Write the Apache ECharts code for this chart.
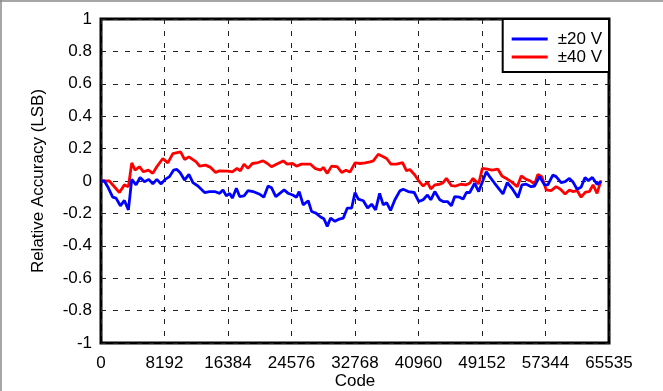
<!DOCTYPE html>
<html>
<head>
<meta charset="utf-8">
<script src="https://cdn.jsdelivr.net/npm/echarts@6/dist/echarts.min.js"></script>
<style>html,body{margin:0;padding:0;background:#fff}#c{width:663px;height:391px}</style>
</head>
<body>
<div id="c"></div>
<script>
var xTicks = [0, 8192, 16384, 24576, 32768, 40960, 49152, 57344, 65535];
var seriesNames = ['\u00b120 V', '\u00b140 V'];

var codes20 = [0,431,862,1509,1940,2501,3018,3536,3967,4527,5045,5605,6166,6683,7200,7761,8278,8839,9356,9787,10219,10779,11340,11857,12504,13366,14013,14659,15306,15737,16168,16600,16944,17462,17893,18454,18971,19618,20394,20998,21558,21989,22550,23067,23628,24145,24792,25223,25568,26085,26732,27163,27724,28327,28758,29190,29621,30181,30742,31259,31776,32337,32768,33197,33840,34398,34913,35427,35942,36414,36843,37357,37915,38558,38987,39630,40402,41003,41560,42118,42547,43062,43705,44134,44692,45206,45635,46278,46707,47136,47565,48208,48723,49710,50139,50782,51854,52412,53013,53784,54299,54856,55499,55929,56572,57215,57644,58287,58716,59359,59874,60432,60861,61418,61933,62447,62876,63391,63991,64506];
var values20 = [0,0,-0.035,-0.1,-0.106,-0.153,-0.12,-0.178,0.01,-0.024,0.022,-0.004,0.01,-0.018,0.01,-0.018,0.01,0.027,0.067,0.071,0.051,0.006,0.041,-0.01,-0.031,-0.071,-0.065,-0.065,-0.076,-0.055,-0.092,-0.076,-0.106,-0.045,-0.096,-0.092,-0.059,-0.065,-0.08,-0.1,-0.031,-0.041,-0.096,-0.076,-0.055,-0.076,-0.088,-0.1,-0.065,-0.147,-0.122,-0.188,-0.198,-0.222,-0.233,-0.28,-0.229,-0.249,-0.235,-0.229,-0.167,-0.167,-0.071,-0.112,-0.122,-0.167,-0.143,-0.178,-0.076,-0.147,-0.133,-0.182,-0.116,-0.061,-0.051,-0.065,-0.071,-0.127,-0.116,-0.086,-0.116,-0.065,-0.116,-0.127,-0.127,-0.153,-0.096,-0.1,-0.112,-0.071,-0.071,-0.014,-0.065,0.057,0.027,-0.014,-0.08,-0.01,-0.045,-0.102,-0.024,-0.02,-0.035,-0.031,0.027,-0.024,-0.024,0.037,0.027,-0.01,-0.004,0.016,-0.004,-0.051,-0.039,0.022,0.002,0.022,-0.02,-0.004];

var codes40 = [0,431,1078,2371,3018,3536,3967,4398,4958,5476,6122,6683,7200,7976,8623,9270,10262,10779,11340,12288,12719,13495,14142,14789,15306,16384,16944,17548,17979,18454,18971,19532,20265,20911,21472,21989,22636,23498,24016,24706,25223,25870,26430,27034,27594,28327,28672,29190,29750,30483,31044,31604,32121,32768,33411,34055,34698,35127,35770,36285,36843,37400,38129,38901,39416,39845,40488,40917,41560,42118,42547,43062,43705,44134,44563,45206,45764,46407,47050,47565,47994,48723,49195,49838,50439,51211,51725,52412,52926,53698,54213,54856,55414,55929,56357,56872,57430,58073,58716,59274,59874,60432,60861,61418,61933,62490,63005,63477,63991,64506];
var values40 = [0,0,0,-0.071,-0.024,-0.035,0.112,0.067,0.088,0.057,0.067,0.047,0.088,0.139,0.112,0.169,0.18,0.133,0.149,0.118,0.092,0.098,0.084,0.053,0.063,0.061,0.057,0.078,0.063,0.104,0.078,0.108,0.114,0.124,0.108,0.088,0.104,0.124,0.104,0.108,0.092,0.104,0.104,0.104,0.078,0.067,0.084,0.047,0.092,0.088,0.053,0.067,0.055,0.112,0.108,0.112,0.118,0.124,0.165,0.153,0.139,0.104,0.104,0.114,0.063,0.071,0.037,0.006,-0.031,-0.008,-0.049,-0.024,-0.02,-0.01,0.016,-0.029,-0.031,-0.02,-0.024,-0.014,0.016,-0.018,0.078,0.073,0.067,0.073,0.031,0.012,-0.004,-0.035,0.031,0.01,0,-0.02,0.041,0.027,-0.055,-0.059,-0.035,-0.051,-0.08,-0.055,-0.065,-0.059,-0.1,-0.069,-0.065,-0.024,-0.076,0.004];

function pairs(xs, ys) { return xs.map(function (x, i) { return [x, ys[i]]; }); }

var chart = echarts.init(document.getElementById('c'), null, { renderer: 'canvas' });
var font = 'Liberation Sans, Arial, sans-serif';
var gridLine = { show: true, lineStyle: { color: '#222', width: 1, type: [5, 7] } };
chart.setOption({
  animation: false,
  backgroundColor: '#fff',
  textStyle: { fontFamily: font },
  grid: { left: 101, right: 54, top: 19, bottom: 48, show: true, borderColor: '#000', borderWidth: 3, backgroundColor: 'transparent', containLabel: false, outerBoundsMode: 'none' },
  xAxis: {
    type: 'value', min: 0, max: 65535, interval: 8192,
    name: 'Code', nameLocation: 'middle', nameGap: 30, nameMoveOverlap: false,
    nameTextStyle: { fontSize: 17, color: '#000', fontFamily: font },
    axisLine: { show: false }, axisTick: { show: false },
    axisLabel: { customValues: xTicks, fontSize: 17, color: '#000', margin: 12, fontFamily: font, formatter: function (v) { return String(v); } },
    splitLine: gridLine
  },
  yAxis: {
    type: 'value', min: -1, max: 1, interval: 0.2,
    name: 'Relative Accuracy (LSB)', nameLocation: 'middle', nameGap: 54, nameMoveOverlap: false,
    nameTextStyle: { fontSize: 17, color: '#000', fontFamily: font },
    axisLine: { show: false }, axisTick: { show: false },
    axisLabel: { fontSize: 17, color: '#000', margin: 9, fontFamily: font, formatter: function (v) { return String(Math.round(v * 10) / 10); } },
    splitLine: gridLine
  },
  legend: {
    orient: 'vertical', right: 54, top: 19,
    data: seriesNames,
    icon: 'rect',
    backgroundColor: '#fff', borderColor: '#000', borderWidth: 2,
    padding: [11, 7, 6, 9],
    itemWidth: 36, itemHeight: 3, itemGap: 0,
    textStyle: { fontSize: 17, color: '#000', fontFamily: font, padding: [0, 0, 0, 5], lineHeight: 18 }
  },
  graphic: [
    { type: 'line', shape: { x1: 0, y1: 1, x2: 663, y2: 1 }, style: { stroke: '#888', lineWidth: 1.5 } },
    { type: 'line', shape: { x1: 1, y1: 0, x2: 1, y2: 391 }, style: { stroke: '#888', lineWidth: 1.5 } }
  ],
  series: [
    { name: seriesNames[0], type: 'line', data: pairs(codes20, values20), symbol: 'none', lineStyle: { color: '#0000ff', width: 2.8 }, itemStyle: { color: '#0000ff' }, z: 3 },
    { name: seriesNames[1], type: 'line', data: pairs(codes40, values40), symbol: 'none', lineStyle: { color: '#ff0000', width: 2.8 }, itemStyle: { color: '#ff0000' }, z: 2 }
  ]
});
</script>
</body>
</html>
